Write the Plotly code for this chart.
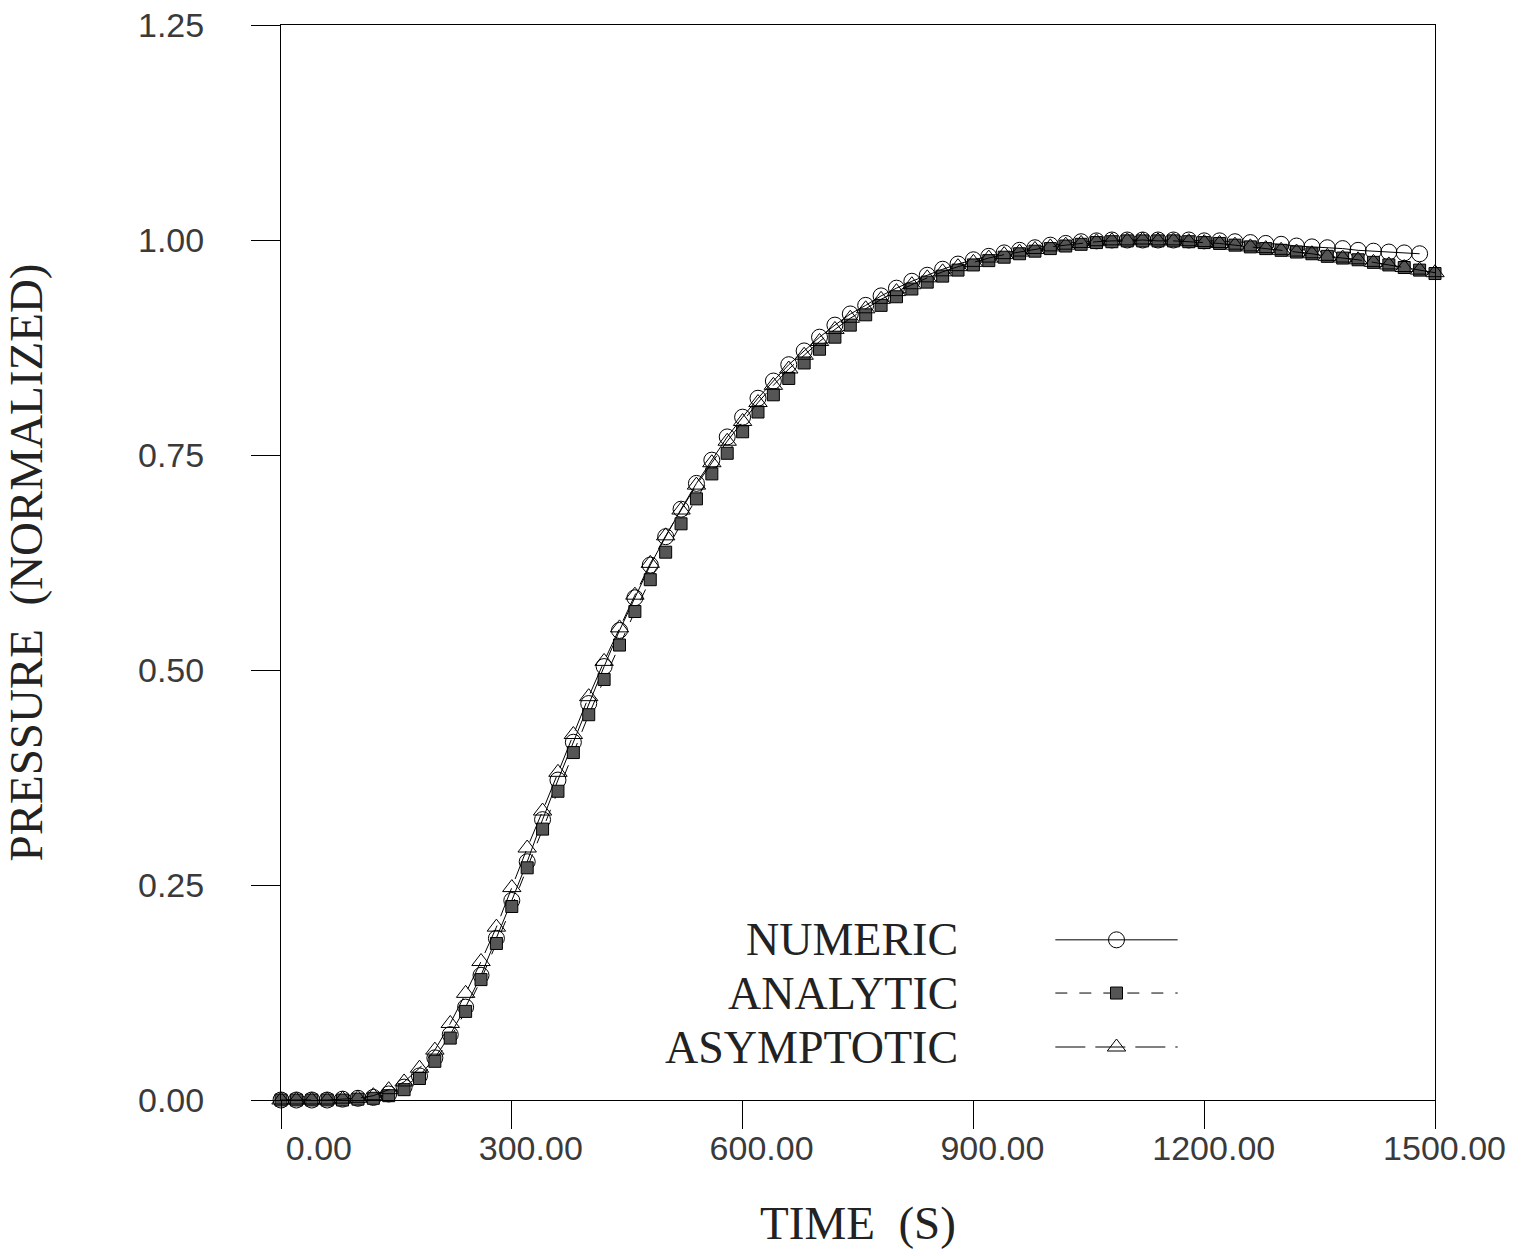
import plotly.graph_objects as go

# ---------------- data ----------------
time_numeric = [0, 20, 40, 60, 80, 100, 120, 140, 160, 180, 200, 220, 240, 260, 280,
                300, 320, 340, 360, 380, 400, 420, 440, 460, 480, 500, 520, 540, 560, 580,
                600, 620, 640, 660, 680, 700, 720, 740, 760, 780, 800, 820, 840, 860, 880,
                900, 920, 940, 960, 980, 1000, 1020, 1040, 1060, 1080, 1100, 1120, 1140, 1160, 1180,
                1200, 1220, 1240, 1260, 1280, 1300, 1320, 1340, 1360, 1380, 1400, 1420, 1440, 1460, 1480]
time_full = [0, 20, 40, 60, 80, 100, 120, 140, 160, 180, 200, 220, 240, 260, 280,
             300, 320, 340, 360, 380, 400, 420, 440, 460, 480, 500, 520, 540, 560, 580,
             600, 620, 640, 660, 680, 700, 720, 740, 760, 780, 800, 820, 840, 860, 880,
             900, 920, 940, 960, 980, 1000, 1020, 1040, 1060, 1080, 1100, 1120, 1140, 1160, 1180,
             1200, 1220, 1240, 1260, 1280, 1300, 1320, 1340, 1360, 1380, 1400, 1420, 1440, 1460, 1480, 1500]

numeric = [0.000, 0.000, 0.000, 0.000, 0.001, 0.002, 0.003, 0.007, 0.015, 0.028,
           0.049, 0.076, 0.108, 0.145, 0.188, 0.232, 0.277, 0.326, 0.372, 0.416,
           0.461, 0.504, 0.546, 0.584, 0.622, 0.655, 0.687, 0.717, 0.744, 0.771,
           0.794, 0.816, 0.836, 0.855, 0.871, 0.887, 0.901, 0.914, 0.924, 0.935,
           0.944, 0.952, 0.959, 0.966, 0.972, 0.977, 0.981, 0.985, 0.988, 0.991,
           0.994, 0.996, 0.998, 0.999, 1.000, 1.000, 1.000, 1.000, 1.000, 1.000,
           0.999, 0.999, 0.998, 0.997, 0.996, 0.995, 0.993, 0.992, 0.991, 0.990,
           0.988, 0.987, 0.986, 0.985, 0.984]

analytic = [0.000, 0.000, 0.000, 0.000, 0.000, 0.001, 0.002, 0.005, 0.012, 0.025,
            0.045, 0.072, 0.103, 0.140, 0.182, 0.225, 0.270, 0.315, 0.359, 0.404,
            0.448, 0.489, 0.529, 0.568, 0.605, 0.637, 0.670, 0.699, 0.728, 0.752,
            0.777, 0.800, 0.820, 0.839, 0.857, 0.873, 0.887, 0.901, 0.913, 0.924,
            0.934, 0.943, 0.951, 0.958, 0.965, 0.971, 0.976, 0.980, 0.984, 0.987,
            0.990, 0.993, 0.995, 0.997, 0.998, 0.999, 0.999, 0.999, 0.999, 0.998,
            0.997, 0.996, 0.994, 0.992, 0.990, 0.988, 0.986, 0.984, 0.981, 0.979,
            0.977, 0.974, 0.971, 0.968, 0.965, 0.961]

asymptotic = [0.000, 0.000, 0.000, 0.000, 0.001, 0.002, 0.005, 0.012, 0.021, 0.037,
              0.058, 0.089, 0.124, 0.161, 0.201, 0.247, 0.293, 0.336, 0.381, 0.425,
              0.469, 0.510, 0.549, 0.587, 0.624, 0.656, 0.686, 0.715, 0.741, 0.766,
              0.789, 0.811, 0.831, 0.850, 0.866, 0.882, 0.896, 0.909, 0.920, 0.931,
              0.940, 0.948, 0.956, 0.963, 0.969, 0.974, 0.979, 0.983, 0.986, 0.989,
              0.992, 0.994, 0.996, 0.998, 0.999, 0.999, 1.000, 0.999, 0.999, 0.998,
              0.997, 0.996, 0.994, 0.992, 0.990, 0.988, 0.986, 0.984, 0.981, 0.979,
              0.977, 0.974, 0.971, 0.968, 0.965, 0.962]

x_ticks = [0, 300, 600, 900, 1200, 1500]
x_tick_labels = ["0.00", "300.00", "600.00", "900.00", "1200.00", "1500.00"]
y_ticks = [0.0, 0.25, 0.5, 0.75, 1.0, 1.25]
y_tick_labels = ["0.00", "0.25", "0.50", "0.75", "1.00", "1.25"]

series_names = ["NUMERIC", "ANALYTIC", "ASYMPTOTIC"]

# ---------------- styles ----------------
TICK_FONT = dict(family="Liberation Sans", size=34, color="#3a3a3a")
TITLE_FONT = dict(family="Liberation Serif", size=47, color="#222")
LEG_FONT = dict(family="Liberation Serif", size=46, color="#222")

styles = [
    dict(dash="solid", symbol="circle-open", size=16, color="black", line=dict(color="black", width=1)),
    dict(dash="12px,12px", symbol="square", size=12, color="#555", line=dict(color="black", width=1)),
    dict(dash="30px,10px", symbol="triangle-up-open", size=16, color="black", line=dict(color="black", width=1)),
]

fig = go.Figure()
series = [(time_numeric, numeric), (time_full, analytic), (time_full, asymptotic)]
for (xs, ys), name, st in zip(series, series_names, styles):
    fig.add_trace(go.Scatter(
        x=xs, y=ys, name=name, mode="lines+markers",
        line=dict(color="black", width=1, dash=st["dash"]),
        marker=dict(symbol=st["symbol"], size=st["size"], color=st["color"], line=st["line"]),
        showlegend=False, cliponaxis=False,
    ))

# ---------------- custom legend (text left of the sample) ----------------
leg_rows = [0.149, 0.0995, 0.0493]
leg_x0, leg_xm, leg_x1 = 0.671, 0.724, 0.777
leg_text_x = 0.588
for name, st, yr in zip(series_names, styles, leg_rows):
    fig.add_trace(go.Scatter(
        x=[leg_x0, leg_x1], y=[yr, yr], mode="lines", xaxis="x2", yaxis="y2",
        line=dict(color="black", width=1, dash=st["dash"]), showlegend=False, hoverinfo="skip"))
    fig.add_trace(go.Scatter(
        x=[leg_xm], y=[yr], mode="markers", xaxis="x2", yaxis="y2",
        marker=dict(symbol=st["symbol"], size=st["size"], color=st["color"], line=st["line"]),
        showlegend=False, hoverinfo="skip"))
    fig.add_annotation(x=leg_text_x, y=yr, xref="x2", yref="y2", text=name,
                       showarrow=False, xanchor="right", yanchor="middle", font=LEG_FONT)

fig.update_layout(
    width=1529, height=1256,
    margin=dict(l=281, r=94, t=25, b=156, autoexpand=False),
    paper_bgcolor="white", plot_bgcolor="white",
    xaxis=dict(
        range=[0, 1500], tickvals=x_ticks, ticktext=x_tick_labels,
        ticks="outside", ticklen=28, tickwidth=1, tickcolor="black",
        showline=True, linecolor="black", linewidth=1, mirror=True,
        showgrid=False, zeroline=False, tickfont=TICK_FONT, automargin=False,
        ticklabelposition="outside left", ticklabelshift=72, ticklabelstandoff=18,
        title=dict(text="TIME  (S)", font=TITLE_FONT, standoff=40),
    ),
    yaxis=dict(
        range=[0, 1.25], tickvals=y_ticks, ticktext=y_tick_labels,
        ticks="outside", ticklen=29, tickwidth=1, tickcolor="black",
        showline=True, linecolor="black", linewidth=1, mirror=True,
        showgrid=False, zeroline=False, tickfont=TICK_FONT, ticklabelstandoff=40,
        automargin=False,
        title=dict(text="PRESSURE  (NORMALIZED)", font=TITLE_FONT, standoff=100),
    ),
    xaxis2=dict(range=[0, 1], overlaying="x", visible=False),
    yaxis2=dict(range=[0, 1], overlaying="y", visible=False),
)

fig.write_html("out.html")
